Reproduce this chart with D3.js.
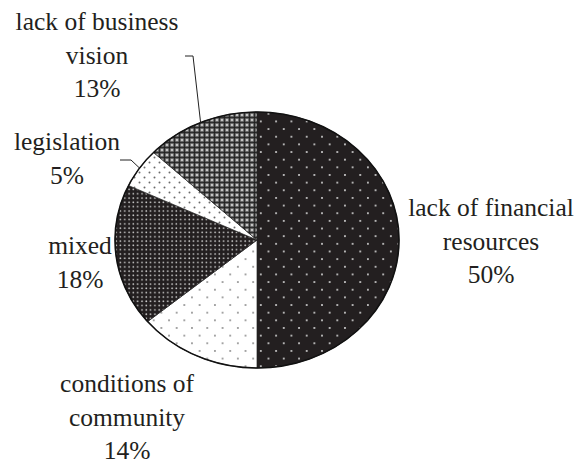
<!DOCTYPE html>
<html>
<head>
<meta charset="utf-8">
<script src="https://cdn.jsdelivr.net/npm/d3@7"></script>
<style>
  body { margin: 0; background: #fff; }
  svg { display: block; }
</style>
</head>
<body>
<div id="grafica-pie"></div>
<script>
// datos del grafico
const categories = ['lack of financial resources', 'conditions of community', 'mixed', 'legislation', 'lack of business vision']
const values = [50, 14, 18, 5, 13]
const nameLines = [['lack of financial', 'resources'], ['conditions of', 'community'], ['mixed'], ['legislation'], ['lack of business', 'vision']]

const width = 579
const height = 466
const cx = 257, cy = 240
const rx = 142, ry = 128
// la serif solo sale bien a 24px, asi que escalamos el texto
const baseFont = 24
const textScale = 25.5 / 24
const lineH = 33.7

// label anchor (center x, first baseline) per slice
const labelPos = [[491, 216], [127, 392], [80, 254], [67, 150], [97, 30]]
// leader elbows (only some slices have them)
const leaders = { 3: [[120, 160], [131, 160]], 4: [[185, 56], [193, 56]] }

const svg = d3.select('#grafica-pie')
    .append('svg')
    .attr('width', width)
    .attr('height', height)

const defs = svg.append('defs')
const undo = `scale(${ry / rx},1)`

function dotPattern(id, size, bg, dot, r, stagger) {
    const p = defs.append('pattern')
        .attr('id', id)
        .attr('patternUnits', 'userSpaceOnUse')
        .attr('width', size).attr('height', size)
        .attr('patternTransform', undo)
    p.append('rect').attr('width', size).attr('height', size).attr('fill', bg)
    p.append('circle').attr('cx', size / 4).attr('cy', size / 4).attr('r', r).attr('fill', dot)
    if (stagger) {
        p.append('circle').attr('cx', size * 3 / 4).attr('cy', size * 3 / 4).attr('r', r).attr('fill', dot)
    }
}

dotPattern('p0', 15.3, '#231f20', '#d9d9d9', 1.0, true)   // financial
dotPattern('p1', 15.3, '#ffffff', '#7a7a7a', 0.9, true)   // conditions
dotPattern('p2', 4.3, '#231f20', '#cfcfcf', 0.85, false)  // mixed
dotPattern('p3', 10, '#ffffff', '#6a6a6a', 1.0, true)     // legislation

// crosshatch gris (business vision)
const p4 = defs.append('pattern')
    .attr('id', 'p4')
    .attr('patternUnits', 'userSpaceOnUse')
    .attr('width', 5).attr('height', 5)
    .attr('patternTransform', undo)
p4.append('rect').attr('width', 5).attr('height', 5).attr('fill', '#7e7e7e')
p4.append('path').attr('d', 'M0,2.5H5M2.5,0V5').attr('stroke', '#2e2e2e').attr('stroke-width', 1.3)
p4.append('circle').attr('cx', 2.5).attr('cy', 2.5).attr('r', 1.1).attr('fill', '#222')
;[[0, 0], [5, 0], [0, 5], [5, 5]].forEach(c => {
    p4.append('circle').attr('cx', c[0]).attr('cy', c[1]).attr('r', 0.9).attr('fill', '#e6e6e6')
})

const data = categories.map((c, i) => ({ cat: c, value: values[i], idx: i }))

const pie = d3.pie()
    .sort(null)
    .value(d => d.value)

const arcs = pie(data)

const arc = d3.arc()
    .innerRadius(0)
    .outerRadius(ry)

// pie elipsado: escalamos el grupo en x
const g = svg.append('g')
    .attr('transform', `translate(${cx},${cy}) scale(${rx / ry},1)`)

g.selectAll('.slice')
    .data(arcs)
    .enter().append('path')
    .attr('class', 'slice')
    .attr('d', arc)
    .attr('fill', d => `url(#p${d.data.idx})`)
    .attr('stroke', '#222')
    .attr('stroke-width', 0.7)
    .attr('vector-effect', 'non-scaling-stroke')

// borde exterior
svg.append('ellipse')
    .attr('cx', cx).attr('cy', cy)
    .attr('rx', rx).attr('ry', ry)
    .attr('fill', 'none')
    .attr('stroke', '#111')
    .attr('stroke-width', 1.6)

// leader lines
arcs.forEach(a => {
    const pts = leaders[a.data.idx]
    if (!pts) return
    const mid = (a.startAngle + a.endAngle) / 2
    const edge = [cx + rx * Math.sin(mid), cy - ry * Math.cos(mid)]
    svg.append('path')
        .attr('d', d3.line()(pts.concat([edge])))
        .attr('fill', 'none')
        .attr('stroke', '#222')
        .attr('stroke-width', 1)
})

// etiquetas
arcs.forEach(a => {
    const i = a.data.idx
    const lines = nameLines[i].concat([`${a.data.value}%`])
    const t = svg.append('text')
        .attr('transform', `translate(${labelPos[i][0]},${labelPos[i][1]}) scale(${textScale})`)
        .attr('text-anchor', 'middle')
        .attr('font-family', 'Liberation Serif')
        .attr('font-size', baseFont)
        .attr('fill', '#231f20')
    lines.forEach((l, k) => {
        t.append('tspan')
            .attr('x', 0)
            .attr('y', k * lineH / textScale)
            .text(l)
    })
})
</script>
</body>
</html>
